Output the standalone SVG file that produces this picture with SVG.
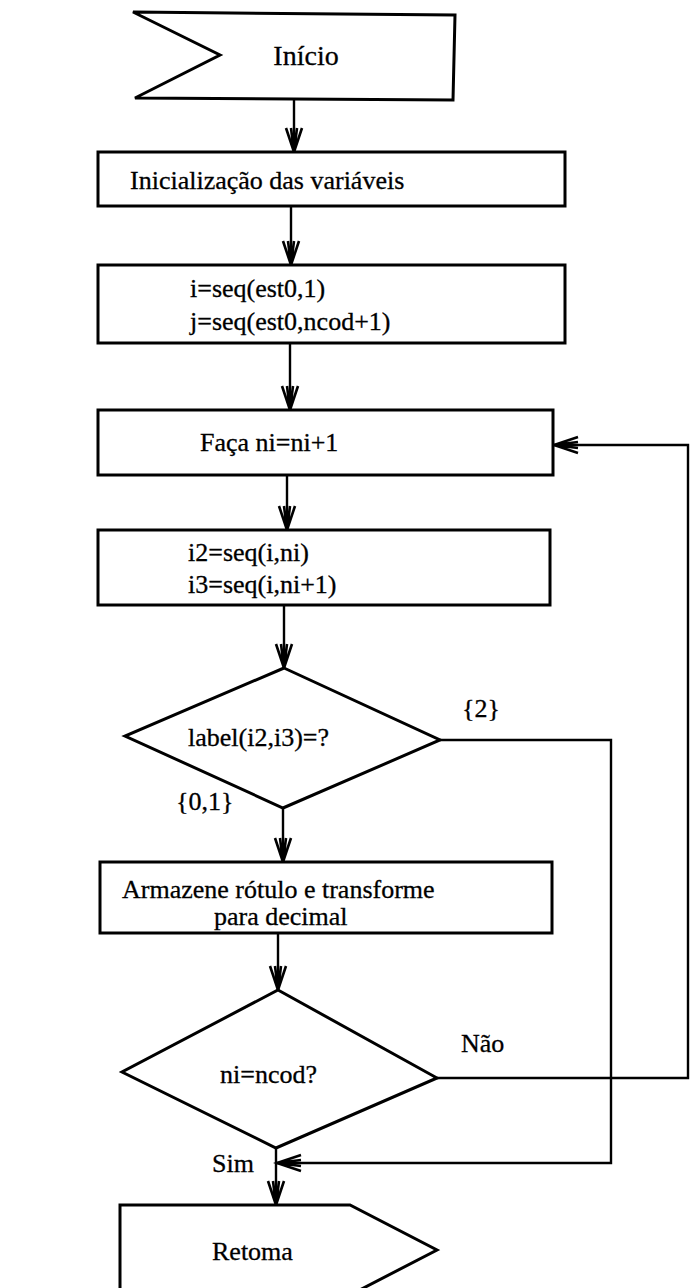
<svg xmlns="http://www.w3.org/2000/svg" width="691" height="1288" viewBox="0 0 691 1288">
  <style>
    .shape { fill: #ffffff; stroke: #000000; stroke-width: 3; stroke-linejoin: miter; }
    .wire { fill: none; stroke: #000000; stroke-width: 2.4; }
    .label { font-family: "Liberation Serif", "Times New Roman", serif; font-size: 26px; fill: #000000; stroke: #000000; stroke-width: 0.3; }
  </style>
  <defs>
    <marker id="head" markerUnits="userSpaceOnUse" markerWidth="30" markerHeight="20" viewBox="-26 -10 30 20" refX="0" refY="0" orient="auto">
      <path d="M-24,-8 L0,0 L-24,8 M-24,-3 L0,0 L-24,3" fill="none" stroke="#000000" stroke-width="2.6"/>
    </marker>
  </defs>
  <rect width="691" height="1288" fill="#ffffff"/>

  <!-- connectors -->
  <g id="connectors">
    <path class="wire" d="M294,100 V152" marker-end="url(#head)"/>
    <path class="wire" d="M291,206 V265" marker-end="url(#head)"/>
    <path class="wire" d="M290,343 V410" marker-end="url(#head)"/>
    <path class="wire" d="M287,475 V530" marker-end="url(#head)"/>
    <path class="wire" d="M284,605 V668" marker-end="url(#head)"/>
    <path class="wire" d="M283,808 V862" marker-end="url(#head)"/>
    <path class="wire" d="M278,933 V990" marker-end="url(#head)"/>
    <path class="wire" d="M276,1148 V1205" marker-end="url(#head)"/>
    <!-- {2} branch joins the exit line -->
    <path class="wire" d="M440,740 H611 V1163 H277" marker-end="url(#head)"/>
    <!-- Não branch loops back to the increment step -->
    <path class="wire" d="M437,1078 H688 V445 H554" marker-end="url(#head)"/>
    <text class="label" x="462" y="717">{2}</text>
    <text class="label" x="176" y="810">{0,1}</text>
    <text class="label" x="461" y="1052">Não</text>
    <text class="label" x="212" y="1172">Sim</text>
  </g>

  <g id="inicio">
    <path class="shape" d="M133,12 L455,15 L453,100 L135,98 L220,55 Z"/>
    <text class="label" x="306" y="65" text-anchor="middle" style="font-size:28px">Início</text>
  </g>

  <g id="inicializacao">
    <rect class="shape" x="98" y="152" width="467" height="54"/>
    <text class="label" x="130" y="189">Inicialização das variáveis</text>
  </g>

  <g id="seq-inicial">
    <rect class="shape" x="98" y="265" width="467" height="78"/>
    <text class="label" x="190" y="297">i=seq(est0,1)</text>
    <text class="label" x="190" y="330">j=seq(est0,ncod+1)</text>
  </g>

  <g id="incremento">
    <rect class="shape" x="98" y="410" width="455" height="65"/>
    <text class="label" x="200" y="451">Faça ni=ni+1</text>
  </g>

  <g id="seq-pares">
    <rect class="shape" x="98" y="530" width="452" height="75"/>
    <text class="label" x="188" y="561">i2=seq(i,ni)</text>
    <text class="label" x="188" y="593">i3=seq(i,ni+1)</text>
  </g>

  <g id="teste-label">
    <path class="shape" d="M284,668 L440,740 L283,808 L125,736 Z"/>
    <text class="label" x="188" y="746">label(i2,i3)=?</text>
  </g>

  <g id="armazena">
    <rect class="shape" x="100" y="862" width="452" height="71"/>
    <text class="label" x="122" y="898">Armazene rótulo e transforme</text>
    <text class="label" x="214" y="925">para decimal</text>
  </g>

  <g id="teste-fim">
    <path class="shape" d="M278,990 L437,1078 L276,1148 L122,1072 Z"/>
    <text class="label" x="220" y="1083">ni=ncod?</text>
  </g>

  <g id="retorna">
    <path class="shape" d="M120,1205 L350,1205 L437,1250 L350,1295 L120,1295 Z"/>
    <text class="label" x="212" y="1260">Retoma</text>
  </g>
</svg>
